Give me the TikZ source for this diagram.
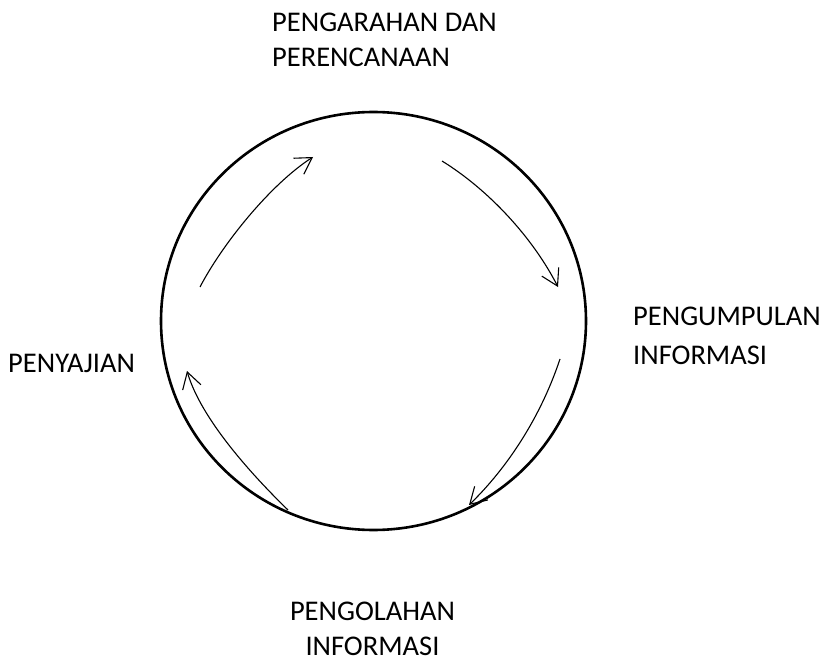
\documentclass[tikz,border=0pt]{standalone}
\usepackage{fontspec}
\setmainfont{Carlito}
\usetikzlibrary{arrows.meta,shapes.geometric}
\tikzset{
  lbl/.style={inner sep=0pt, font=\fontsize{28.5}{34}\selectfont},
  ring/.style={draw=black, line width=2.6pt},
  flow/.style={draw=black, line width=1.1pt, -{Straight Barb[length=16pt,width=19pt,line width=1.1pt]}}
}
\begin{document}
\begin{tikzpicture}[x=1pt,y=-1pt]
\useasboundingbox (0,0) rectangle (831,666);
\node[ring, ellipse, minimum width=425pt, minimum height=418pt, inner sep=0pt] (c) at (373.5,321) {};
% labels
\node[lbl, anchor=base west] (t1) at (272,32) {PENGARAHAN DAN};
\node[lbl, anchor=base west] (t2) at (272,67) {PERENCANAAN};
\node[lbl, anchor=base west] (r1) at (633,325) {PENGUMPULAN};
\node[lbl, anchor=base west] (r2) at (633,364) {INFORMASI};
\node[lbl, anchor=base west] (l1) at (8,372) {PENYAJIAN};
\node[lbl, anchor=base] (b1) at (372.5,620) {PENGOLAHAN};
\node[lbl, anchor=base] (b2) at (372.5,655) {INFORMASI};
% arrow endpoints
\coordinate (a1s) at (200,287); \coordinate (a1e) at (313,157);
\coordinate (a2s) at (442,161); \coordinate (a2e) at (558,287);
\coordinate (a3s) at (560,359); \coordinate (a3e) at (469,505);
\coordinate (a4s) at (288,510); \coordinate (a4e) at (187,371);
\draw[flow] (a1s) .. controls (223,243) and (271,184) .. (a1e);
\draw[flow] (a2s) .. controls (489,190) and (533,238) .. (a2e);
\draw[flow] (a3s) .. controls (538,425) and (501,474) .. (a3e);
\draw[flow] (a4s) .. controls (252,475) and (201,419) .. (a4e);
\end{tikzpicture}
\end{document}
